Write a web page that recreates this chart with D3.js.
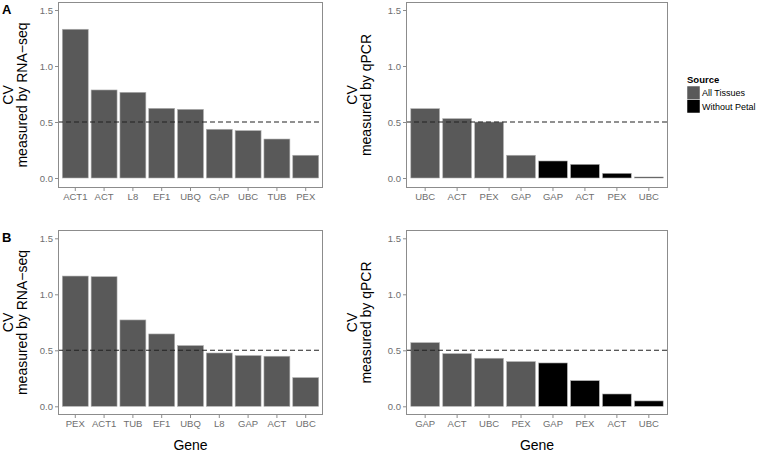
<!DOCTYPE html>
<html>
<head>
<meta charset="utf-8">
<script src="https://cdn.jsdelivr.net/npm/d3@7"></script>
<style>
html,body{margin:0;padding:0;background:#fff;}
svg{display:block;font-family:"Liberation Sans",Arial,sans-serif;}
</style>
</head>
<body>
<svg id="chart" width="758" height="452"></svg>
<script>
// ---- data ----
const genesARna = ["ACT1","ACT","L8","EF1","UBQ","GAP","UBC","TUB","PEX"];
const valsARna  = [1.328,0.786,0.765,0.622,0.613,0.435,0.423,0.348,0.203];

const genesAQ   = ["UBC","ACT","PEX","GAP","GAP","ACT","PEX","UBC"];
const valsAQ    = [0.619,0.530,0.500,0.203,0.152,0.122,0.042,0.009];
const srcAQ     = ["All Tissues","All Tissues","All Tissues","All Tissues","Without Petal","Without Petal","Without Petal","Without Petal"];

const genesBRna = ["PEX","ACT1","TUB","EF1","UBQ","L8","GAP","ACT","UBC"];
const valsBRna  = [1.163,1.157,0.771,0.646,0.542,0.476,0.453,0.447,0.256];

const genesBQ   = ["GAP","ACT","UBC","PEX","GAP","PEX","ACT","UBC"];
const valsBQ    = [0.568,0.470,0.429,0.399,0.387,0.229,0.110,0.048];
const srcBQ     = ["All Tissues","All Tissues","All Tissues","All Tissues","Without Petal","Without Petal","Without Petal","Without Petal"];

const yTicks = [0, 0.5, 1.0, 1.5];
const sources = ["All Tissues","Without Petal"];
const threshold = 0.5;

// ---- drawing ----
const svg = d3.select("#chart");
const color = d3.scaleOrdinal().domain(sources).range(["#595959","#000000"]);

function panel(opts){
  const {x0,x1,top,bottom,y0px,y15px,genes,vals,src,title2,showGene,titleOff} = opts;
  const g = svg.append("g");
  const x = d3.scaleBand().domain(d3.range(genes.length)).range([x0,x1])
              .paddingInner(0.1).paddingOuter(0.15);
  const y = d3.scaleLinear().domain([0,1.5]).range([y0px,y15px]);

  // bars
  g.selectAll("rect.bar").data(vals).join("rect")
    .attr("x",(d,i)=>x(i)).attr("width",x.bandwidth())
    .attr("y",d=>y(d)).attr("height",d=>y(0)-y(d))
    .attr("fill",(d,i)=>color(src ? src[i] : "All Tissues"))
    .attr("stroke","#b0b0b0").attr("stroke-width",0.6);

  // threshold line
  g.append("line").attr("x1",x0).attr("x2",x1)
    .attr("y1",y(threshold)).attr("y2",y(threshold))
    .attr("stroke","#222").attr("stroke-width",1.1).attr("stroke-dasharray","5,3");

  // border
  g.append("rect").attr("x",x0+0.5).attr("y",top+0.5)
    .attr("width",x1-x0-1).attr("height",bottom-top-1)
    .attr("fill","none").attr("stroke","#8c8c8c").attr("stroke-width",1);

  // y axis
  const ya = g.append("g").attr("transform",`translate(${x0},0)`)
    .call(d3.axisLeft(y).tickValues(yTicks).tickFormat(d3.format(".1f")).tickSizeOuter(0).tickSize(3).tickPadding(2));
  ya.select(".domain").remove();
  ya.selectAll(".tick line").attr("stroke","#8c8c8c");
  ya.selectAll(".tick text").attr("fill","#6e6e6e").style("font-size","9.5px").style("font-family","Liberation Sans, Arial, sans-serif");

  // x axis
  const xa = g.append("g").attr("transform",`translate(0,${bottom})`)
    .call(d3.axisBottom(x).tickFormat(i=>genes[i]).tickSizeOuter(0).tickSize(3).tickPadding(2));
  xa.select(".domain").remove();
  xa.selectAll(".tick line").attr("stroke","#8c8c8c");
  xa.selectAll(".tick text").attr("fill","#6e6e6e").style("font-size","9.5px").style("font-family","Liberation Sans, Arial, sans-serif");

  // y title
  const cy = (top+bottom)/2;
  const t = g.append("text").attr("transform",`translate(${x0-titleOff},${cy}) rotate(-90)`)
    .attr("text-anchor","middle").style("font-size","14px").attr("fill","#000");
  t.append("tspan").attr("x",0).attr("y",0).text("CV");
  t.append("tspan").attr("x",0).attr("y",14).text(title2);

  if (showGene){
    g.append("text").attr("x",(x0+x1)/2).attr("y",450).attr("text-anchor","middle")
      .style("font-size","14px").attr("fill","#000").text("Gene");
  }
}

panel({x0:58,x1:323,top:2,bottom:188,y0px:178,y15px:10,genes:genesARna,vals:valsARna,src:null,title2:"measured by RNA\u2212seq",titleOff:45});
panel({x0:406,x1:668,top:2,bottom:188,y0px:178,y15px:10,genes:genesAQ,vals:valsAQ,src:srcAQ,title2:"measured by qPCR",titleOff:49});
panel({x0:58,x1:323,top:230,bottom:415,y0px:406.3,y15px:238.3,genes:genesBRna,vals:valsBRna,src:null,title2:"measured by RNA\u2212seq",showGene:true,titleOff:45});
panel({x0:406,x1:668,top:230,bottom:415,y0px:406.3,y15px:238.3,genes:genesBQ,vals:valsBQ,src:srcBQ,title2:"measured by qPCR",showGene:true,titleOff:49});

// panel letters
svg.append("text").attr("x",2).attr("y",14).style("font-size","13px").style("font-weight","bold").text("A");
svg.append("text").attr("x",2).attr("y",242).style("font-size","13px").style("font-weight","bold").text("B");

// legend
const lg = svg.append("g").attr("transform","translate(687,0)");
lg.append("text").attr("x",0).attr("y",83).style("font-size","9.5px").style("font-weight","bold").text("Source");
const keyH = 13.5;
lg.selectAll("rect.key").data(sources).join("rect")
  .attr("x",0).attr("y",(d,i)=>86+i*keyH).attr("width",13).attr("height",keyH)
  .attr("fill",d=>color(d)).attr("stroke","#fff").attr("stroke-width",0.5);
lg.selectAll("text.lab").data(sources).join("text")
  .attr("x",15).attr("y",(d,i)=>86+i*keyH+10).style("font-size","9px").text(d=>d);
</script>
</body>
</html>
